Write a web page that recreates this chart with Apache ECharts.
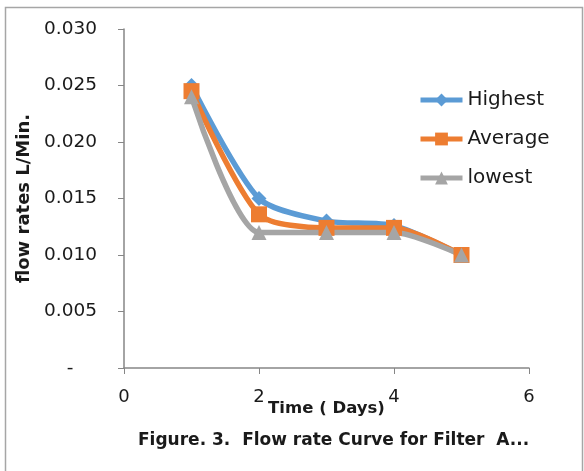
<!DOCTYPE html>
<html>
<head>
<meta charset="utf-8">
<script src="https://cdn.jsdelivr.net/npm/echarts@6/dist/echarts.min.js"></script>
<style>
  html, body { margin: 0; padding: 0; background: #fff; }
  #main { width: 584px; height: 471px; }
</style>
</head>
<body>
<div id="main"></div>
<script>
var days = [1, 2, 3, 4, 5];
var highest = [0.0250, 0.0150, 0.0130, 0.0126, 0.0100];
var average = [0.0245, 0.0136, 0.0124, 0.0124, 0.0100];
var lowest = [0.0240, 0.0120, 0.0120, 0.0120, 0.0100];

function pairs(ys) {
    return days.map(function (d, i) { return [d, ys[i]]; });
}

var font = 'DejaVu Sans';
var ink = '#1a1a1a';
var myChart = echarts.init(document.getElementById('main'));

var option = {
    backgroundColor: '#fff',
    animation: false,
    graphic: [{
        type: 'rect',
        shape: { x: 5.5, y: 7.5, width: 577, height: 470 },
        style: { fill: 'none', stroke: '#a6a6a6', lineWidth: 1.5 }
    }],
    title: {
        text: 'Figure. 3.  Flow rate Curve for Filter  A...',
        left: 133,
        top: 427,
        textStyle: { fontFamily: font, fontSize: 17, fontWeight: 'bold', color: ink }
    },
    legend: {
        orient: 'vertical',
        left: 413,
        top: 85,
        itemGap: 19,
        itemWidth: 42,
        itemHeight: 16,
        lineStyle: { width: 5 },
        textStyle: { fontFamily: font, fontSize: 20, color: ink },
        data: ['Highest', 'Average', 'lowest']
    },
    grid: { left: 124, right: 55, top: 29, bottom: 103 },
    xAxis: {
        type: 'value',
        min: 0, max: 6, interval: 2,
        name: 'Time ( Days)',
        nameLocation: 'middle',
        nameGap: 32,
        nameMoveOverlap: false,
        nameTextStyle: { fontFamily: font, fontSize: 16.5, fontWeight: 'bold', color: ink },
        axisLine: { lineStyle: { color: '#868686', width: 1.5 } },
        axisTick: { length: 6, lineStyle: { color: '#868686' } },
        axisLabel: { fontFamily: font, fontSize: 18, color: ink, margin: 20 },
        splitLine: { show: false }
    },
    yAxis: {
        type: 'value',
        min: 0, max: 0.03, interval: 0.005,
        name: 'flow rates L/Min.',
        nameLocation: 'middle',
        nameGap: 88,
        nameTextStyle: { fontFamily: font, fontSize: 18, fontWeight: 'bold', color: ink },
        axisLine: { show: true, lineStyle: { color: '#868686', width: 1.5 } },
        axisTick: { show: true, length: 6, lineStyle: { color: '#868686' } },
        axisLabel: {
            fontFamily: font, fontSize: 18.5, color: ink, margin: 27,
            formatter: function (v) { return v === 0 ? '-    ' : v.toFixed(3); }
        },
        splitLine: { show: false }
    },
    series: [{
        name: 'Highest',
        type: 'line',
        smooth: 0.25,
        data: pairs(highest),
        symbol: 'diamond',
        symbolSize: 15,
        lineStyle: { width: 5.5, color: '#5b9bd5' },
        itemStyle: { color: '#5b9bd5' }
    }, {
        name: 'Average',
        type: 'line',
        smooth: 0.25,
        data: pairs(average),
        symbol: 'rect',
        symbolSize: 16,
        lineStyle: { width: 5.5, color: '#ed7d31' },
        itemStyle: { color: '#ed7d31' }
    }, {
        name: 'lowest',
        type: 'line',
        smooth: 0.25,
        data: pairs(lowest),
        symbol: 'triangle',
        symbolSize: 15,
        lineStyle: { width: 5.5, color: '#a5a5a5' },
        itemStyle: { color: '#a5a5a5' }
    }]
};

myChart.setOption(option);
</script>
</body>
</html>
